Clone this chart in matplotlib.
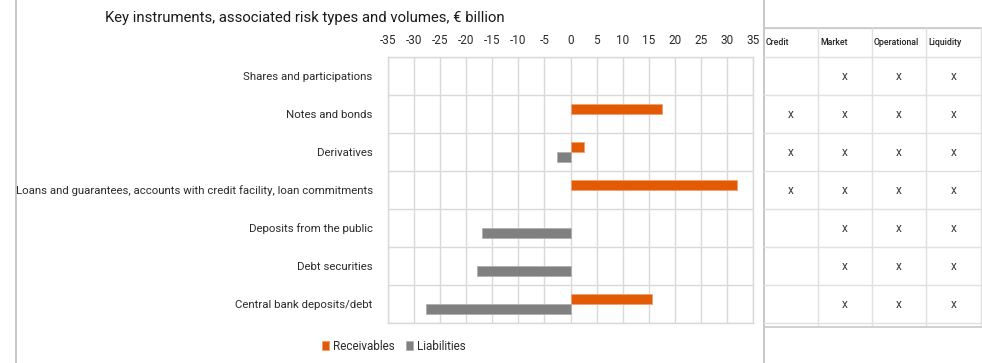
import matplotlib
matplotlib.use("Agg")
import matplotlib.pyplot as plt
import numpy as np

plt.rcParams["font.family"] = ["Roboto", "DejaVu Sans"]
plt.rcParams["axes.unicode_minus"] = False

categories = [
    "Shares and participations",
    "Notes and bonds",
    "Derivatives",
    "Loans and guarantees, accounts with credit facility, loan commitments",
    "Deposits from the public",
    "Debt securities",
    "Central bank deposits/debt",
]
receivables = [0, 17.6, 2.5, 31.9, 0, 0, 15.7]
liabilities = [0, 0, -2.6, 0, -17.0, -18.0, -27.7]

risk_types = ["Credit", "Market", "Operational", "Liquidity"]
# one row per instrument: which risk types apply
risk_matrix = [
    [0, 1, 1, 1],
    [1, 1, 1, 1],
    [1, 1, 1, 1],
    [1, 1, 1, 1],
    [0, 1, 1, 1],
    [0, 1, 1, 1],
    [0, 1, 1, 1],
]

ORANGE = "#e35a05"
GREY = "#808080"
GRID = "#d9d9d9"
TEXT = "#2b2b2b"
W, H = 982, 363

fig = plt.figure(figsize=(W / 100, H / 100), dpi=100)

# bar chart, placed by pixel box
x0, x1, y0, y1 = 388, 753, 57, 323
ax = fig.add_axes([x0 / W, 1 - y1 / H, (x1 - x0) / W, (y1 - y0) / H])
n = len(categories)
pos = np.arange(n)
bh = 0.26
rec = [v if v else np.nan for v in receivables]
lia = [v if v else np.nan for v in liabilities]
ax.barh(pos - bh / 2, rec, height=bh, color=ORANGE, edgecolor="#f2a070",
        linewidth=0.6, label="Receivables", zorder=3)
ax.barh(pos + bh / 2, lia, height=bh, color=GREY, edgecolor="#b0b0b0",
        linewidth=0.6, label="Liabilities", zorder=3)
ax.set_xlim(-35, 35)
ax.set_ylim(n - 0.5, -0.5)
ax.set_xticks(np.arange(-35, 36, 5))
ax.xaxis.tick_top()
ax.tick_params(axis="x", length=0, pad=7, labelsize=8.5, colors=TEXT)
ax.set_yticks(pos)
ax.set_yticklabels(categories)
ax.tick_params(axis="y", length=0, pad=11, labelsize=8.2, colors=TEXT)
ax.set_yticks(np.arange(-0.5, n, 1), minor=True)
ax.tick_params(axis="y", which="minor", length=0)
ax.grid(axis="x", color=GRID, linewidth=1, zorder=0)
ax.grid(axis="y", which="minor", color=GRID, linewidth=1, zorder=0)
ax.grid(axis="y", which="major", visible=False)
for s in ax.spines.values():
    s.set_color(GRID)
    s.set_linewidth(1)

fig.text(105 / W, 1 - 18 / H, "Key instruments, associated risk types and volumes, € billion",
         fontsize=10.7, color="#1a1a1a", va="center", ha="left")

fig.legend(*ax.get_legend_handles_labels(), loc="center",
           bbox_to_anchor=(394 / W, 1 - 346 / H), ncol=2, frameon=False,
           fontsize=8.4, handlelength=0.6, handleheight=0.7, handletextpad=0.3,
           columnspacing=1.0, labelcolor=TEXT)

# overlay in pixel coordinates for frame lines and the risk table
ov = fig.add_axes([0, 0, 1, 1], zorder=-1)
ov.set_xlim(0, W)
ov.set_ylim(H, 0)
ov.axis("off")
LINE = "#c8c8c8"
ov.plot([16, 16], [0, H], color="#bdbdbd", lw=1.2)
ov.plot([764, 764], [0, H], color="#bdbdbd", lw=1.2)

tx0, tx1 = 764, 981
col_edges = [764, 818, 872, 926, 981]
row_edges = [28] + list(y0 + (y1 - y0) / n * np.arange(n + 1))
for yy in row_edges:
    ov.plot([tx0, tx1], [yy, yy], color="#e0e0e0", lw=1)
ov.plot([tx0, tx1], [28, 28], color=LINE, lw=1.2)
ov.plot([tx0, W], [327, 327], color=LINE, lw=1.2)
for xx in col_edges[1:]:
    ov.plot([xx, xx], [28, 325], color="#e0e0e0", lw=1)

for j, name in enumerate(risk_types):
    ov.text(col_edges[j] + 2, (row_edges[0] + row_edges[1]) / 2, name,
            fontsize=6.3, color="#222222", ha="left", va="center", fontweight="medium")
for i, row in enumerate(risk_matrix):
    yc = (row_edges[i + 1] + row_edges[i + 2]) / 2
    for j, flag in enumerate(row):
        if flag:
            ov.text((col_edges[j] + col_edges[j + 1]) / 2, yc, "x",
                    fontsize=8.5, color="#3a3a3a", ha="center", va="center")

fig.savefig("out.png", dpi=100)
